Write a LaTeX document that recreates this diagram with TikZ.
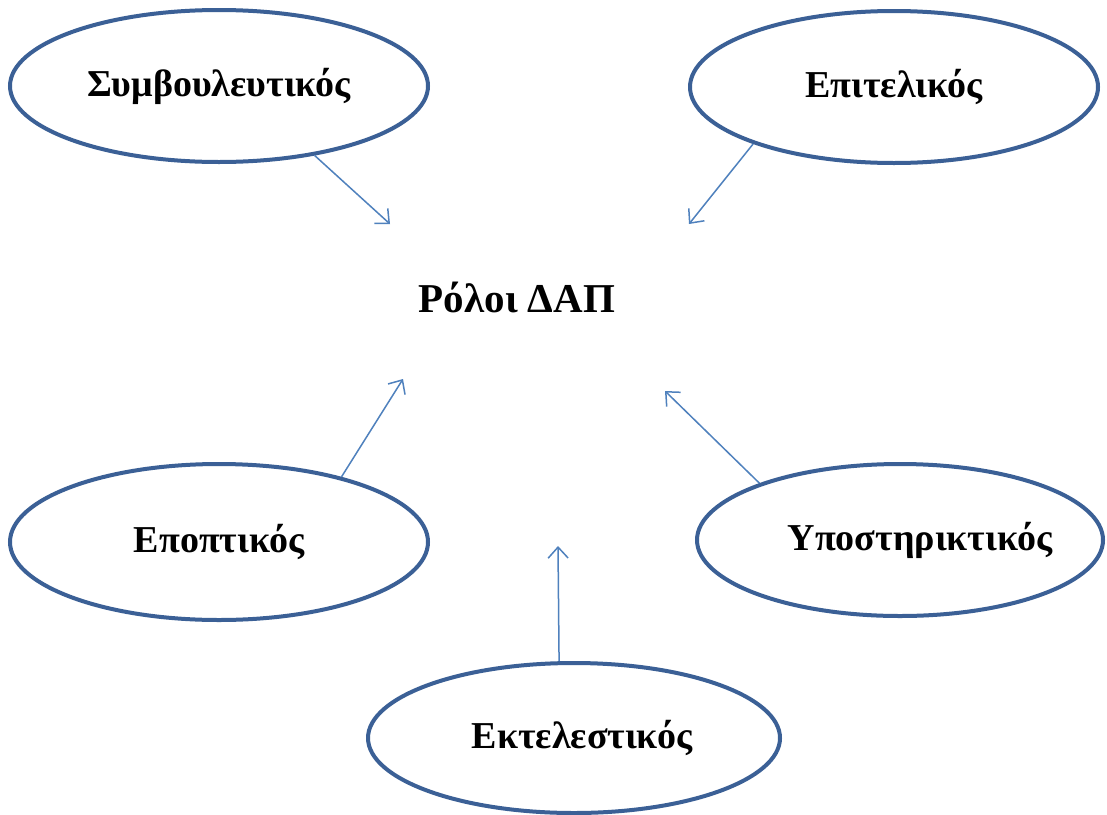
\documentclass[tikz,border=0pt]{standalone}
\usepackage{fontspec}
\setmainfont{Liberation Serif}
\usetikzlibrary{shapes.geometric,arrows.meta}
\definecolor{ellline}{HTML}{3B6096}
\definecolor{arrline}{HTML}{4F81BD}
\tikzset{
  role/.style={ellipse, draw=ellline, line width=4pt, fill=white, inner sep=0pt,
    font=\fontsize{38}{44}\selectfont\bfseries},
  link/.style={draw=arrline, line width=1.5pt, -{Straight Barb[length=11pt,width=20pt,line width=1.5pt]}}
}
\begin{document}
\begin{tikzpicture}[x=1pt,y=-1pt]
\useasboundingbox[fill=white] (0,0) rectangle (1107,814);
\node[role, minimum width=418pt, minimum height=152pt] (e1) at (219,86) {\makebox[0pt]{\raisebox{-4pt}{Συμβουλευτικός}}};
\node[role, minimum width=408pt, minimum height=152pt] (e2) at (894,87) {\makebox[0pt]{\raisebox{-4pt}{Επιτελικός}}};
\node[role, minimum width=418pt, minimum height=156pt] (e3) at (219,542) {\makebox[0pt]{\raisebox{-3pt}{Εποπτικός}}};
\node[role, minimum width=406pt, minimum height=152pt] (e4) at (900,540) {\makebox[0pt]{\hspace*{40pt}\raisebox{-3pt}{Υποστηρικτικός}}};
\node[role, minimum width=412pt, minimum height=150pt] (e5) at (574,738) {\makebox[0pt]{\hspace*{16pt}\raisebox{-6pt}{Εκτελεστικός}}};
\node[font=\fontsize{41}{48}\selectfont\bfseries] (c) at (517,297) {Ρόλοι ΔΑΠ};
\coordinate (t1) at (390,224);
\coordinate (t2) at (689,224);
\coordinate (t3) at (403,379);
\coordinate (t4) at (665,391);
\coordinate (t5) at (558,546);
\draw[link] (e1.-36.6) -- (t1);
\draw[link] (e2.202) -- (t2);
\draw[link] (e3.28.7) -- (t3);
\draw[link] (e4.158.3) -- (t4);
\draw[link] (e5.101.7) -- (t5);
\end{tikzpicture}
\end{document}
